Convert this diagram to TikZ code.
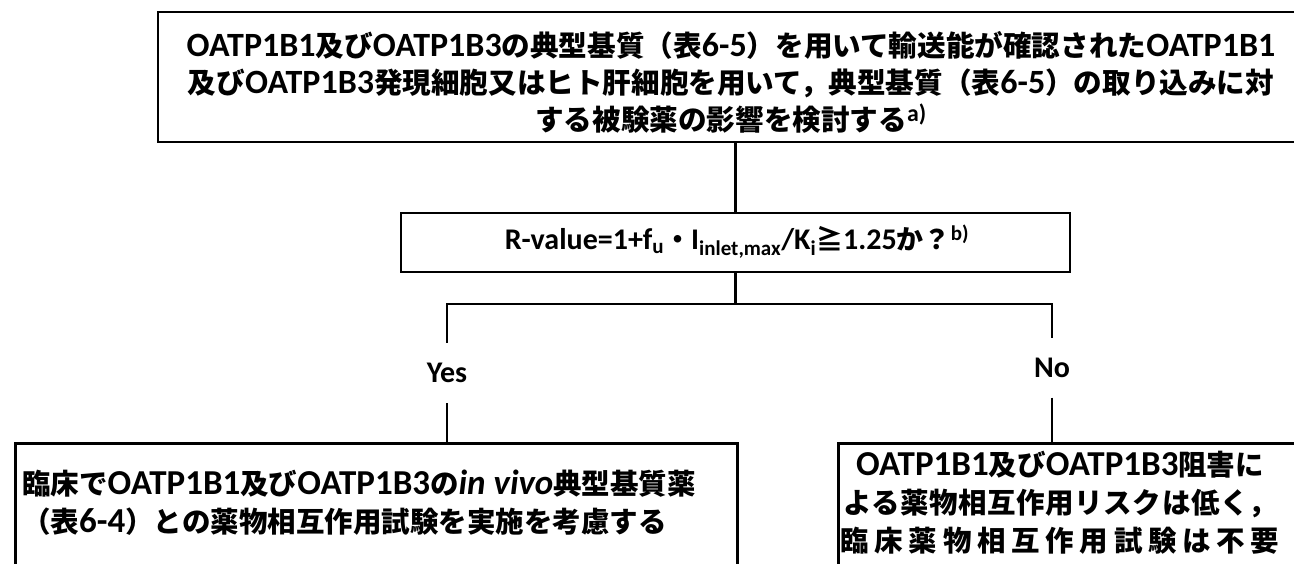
\documentclass[tikz,border=0pt]{standalone}
\usepackage{fontspec}
\setmainfont{Carlito}
\newfontfamily\cj{Noto Sans CJK JP}
\newcommand\J[1]{{\cj\fontsize{28.6}{38}\selectfont #1}}
\newcommand\JR[1]{{\cj\fontsize{27}{38}\selectfont #1}}
\newcommand\JL[1]{{\cj\fontsize{28.5}{38}\selectfont #1}}
\begin{document}
\begin{tikzpicture}[x=1pt,y=-1pt,
  box/.style={draw, line width=2.6pt, inner sep=0pt},
  conn/.style={line width=2.6pt},
  ttxt/.style={inner sep=0pt, font=\bfseries\fontsize{34}{37}\selectfont},
  rtxt/.style={inner sep=0pt, font=\bfseries\fontsize{30}{37}\selectfont},
  btxt/.style={inner sep=0pt, font=\bfseries\fontsize{35}{38}\selectfont},
  yn/.style={inner sep=0pt, font=\bfseries\fontsize{30}{32}\selectfont}]
\useasboundingbox (0,0) rectangle (1294,563);
\fill[white] (0,0) rectangle (1294,563);
% boxes
\node[box, minimum width=1142pt, minimum height=130pt] (top) at (729,77) {};
\node[ttxt, align=center] (toptext) at (731,82)
 {OATP1B1\J{及び}OATP1B3\J{の典型基質（表}6-5\J{）を用いて輸送能が確認された}OATP1B1\\
  \J{及び}OATP1B3\J{発現細胞又はヒト肝細胞を用いて，典型基質（表}6-5\J{）の取り込みに対}\\
  \J{する被験薬の影響を検討する}\textsuperscript{a)}};
\node[box, minimum width=669pt, minimum height=59pt] (rv) at (735.5,242.5) {};
\node[rtxt] (rvtext) at (737,242)
 {R-value=1+f\textsubscript{u}\JR{・}I\textsubscript{inlet,max}/K\textsubscript{i}\JR{≧}1.25\JR{か？}\textsuperscript{b)}};
\node[yn, minimum height=60pt] (yes) at (447,373) {Yes};
\node[yn, minimum height=59pt] (no) at (1052,368) {No};
\node[box, minimum width=722pt, minimum height=170pt, anchor=north west] (lb) at (14,442) {};
\node[btxt, align=left, anchor=west] (lbtext) at (22,503)
 {\JL{臨床で}OATP1B1\JL{及び}OATP1B3\JL{の}\textit{in vivo}\JL{典型基質薬}\\
  \JL{（表}6-4\JL{）との薬物相互作用試験を実施を考慮する}};
\node[box, minimum width=480pt, minimum height=170pt, anchor=north west] (rb) at (837,442) {};
\node[btxt, align=center] (rbtext) at (1060,503)
 {OATP1B1\JL{及び}OATP1B3\JL{阻害に}\\
  \JL{\addfontfeature{LetterSpace=2}よる薬物相互作用リスクは低く，}\\
  \JL{\addfontfeature{LetterSpace=20}臨床薬物相互作用試験は不要}};
% connectors
\coordinate (split) at (735.5,304);
\draw[conn] (rv.north) -- (rv.north |- top.south);
\draw[conn] (rv.south) -- (split);
\draw[conn] (yes.north) |- (split) -| (no.north);
\draw[conn] (yes.south) -- (yes.south |- lb.north);
\draw[conn] (no.south) -- (no.south |- rb.north);
\end{tikzpicture}
\end{document}
